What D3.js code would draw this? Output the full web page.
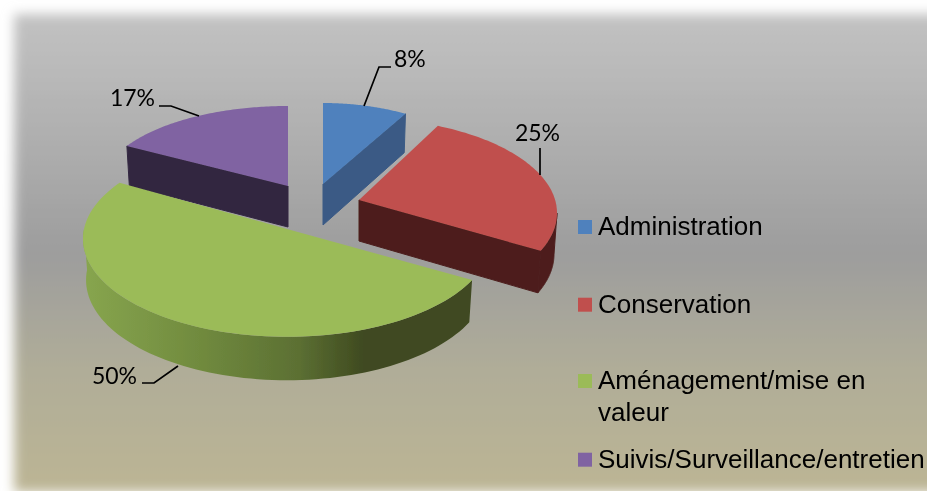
<!DOCTYPE html>
<html><head><meta charset="utf-8">
<script src="https://cdn.jsdelivr.net/npm/d3@7"></script>
<style>html,body{margin:0;padding:0;background:#fff;overflow:hidden}svg{display:block}</style>
</head><body><svg id="c" width="927" height="491"></svg>
<script>
const categories = ["Administration","Conservation","Aménagement/mise en valeur","Suivis/Surveillance/entretien"];
const values = [8.33,25,50,16.67];
const topColors = ["#4f81bd","#c0504d","#9bbb59","#8064a2"];
const sideColors = ["#3a5a85","#4d1f1d","#5a6c32","#332741"];

const W=927,H=491;
const svg=d3.select("#c");
const defs=svg.append("defs");
const bg=defs.append("linearGradient").attr("id","bg").attr("x1",0).attr("y1",0).attr("x2",0).attr("y2",1);
[[0,"#c2c2c2"],[.5,"#9d9d9d"],[.75,"#b0ad98"],[1,"#bcb594"]].forEach(s=>bg.append("stop").attr("offset",s[0]).attr("stop-color",s[1]));
const gs=defs.append("linearGradient").attr("id","gside").attr("gradientUnits","userSpaceOnUse").attr("x1",85).attr("x2",472).attr("y1",0).attr("y2",0);
[[0,"#87a54e"],[.3,"#708a3e"],[.55,"#5c7033"],[.72,"#3f4a20"],[1,"#3f4a20"]].forEach(s=>gs.append("stop").attr("offset",s[0]).attr("stop-color",s[1]));
defs.append("filter").attr("id","soft").attr("filterUnits","userSpaceOnUse").attr("x",-40).attr("y",-40).attr("width",W+120).attr("height",H+80).append("feGaussianBlur").attr("stdDeviation",6);
defs.append("filter").attr("id","aa").attr("filterUnits","userSpaceOnUse").attr("x",0).attr("y",0).attr("width",W).attr("height",H).append("feGaussianBlur").attr("stdDeviation",.5);

svg.append("rect").attr("x",14).attr("y",14).attr("width",W+40).attr("height",H-14+1).attr("fill","url(#bg)").attr("filter","url(#soft)");

// projected shape of each exploded slice (order of categories)
const shapes=[
 {ax:323,ay:184,rx:165,ry:81,p:0,cy:0,rot:0},
 {ax:359,ay:200,rx:198,ry:95,p:0,cy:13,rot:-6.5},
 {ax:287,ay:229,rx:203,ry:97,p:.1,cy:0,rot:0},
 {ax:288,ay:186,rx:186,ry:80,p:0,cy:0,rot:0}
];
const depth=41, depthGrow=.06, wallNarrow=.985;
const pt=(sh,a,z=0)=>{
  const t=a+sh.rot*Math.PI/180, u=Math.sin(t), v=-Math.cos(t), s=1/(1-sh.p*v);
  const x=sh.rx*u*s, y=sh.cy+sh.ry*v*s;
  return [sh.ax+x*(z?wallNarrow:1), sh.ay+y+z*depth*(1+depthGrow*v)];
};
const arcPts=(sh,a0,a1,z)=>d3.range(0,81).map(i=>pt(sh,a0+(a1-a0)*i/80,z));
const line=d3.line();
const arcs=d3.pie().sort(null)(values);
const pct=d3.format(".0%"), total=d3.sum(values);
const g=svg.append("g").attr("filter","url(#aa)");
[0,3,1,2].forEach(i=>{
  const d=arcs[i], sh=shapes[i], a0=d.startAngle,a1=d.endAngle, ap=[sh.ax,sh.ay], apB=[sh.ax,sh.ay+depth];
  const fill=sideColors[i];
  if(i===1){ // outer wall on the right
    const f0=Math.PI/2-sh.rot*Math.PI/180;
    const top=arcPts(sh,f0,a1,0), bot=arcPts(sh,f0,a1,1).reverse();
    g.append("path").attr("d",line(top.concat(bot))+"Z").attr("fill",fill).attr("stroke",fill).attr("stroke-width",1);
  }
  if(i!==2){ // radial face seen from the front
    const a=i===3?a0:a1;
    g.append("path").attr("d",line([ap,pt(sh,a),pt(sh,a,1),apB])+"Z").attr("fill",fill).attr("stroke",fill).attr("stroke-width",1);
  }
  if(i===2){
    const f1=Math.PI*1.5;
    const top=arcPts(sh,a0,f1,0), bot=arcPts(sh,a0,f1,1).reverse();
    g.append("path").attr("d",line(top.concat(bot))+"Z").attr("fill","url(#gside)");
  }
  g.append("path").attr("d",line([ap].concat(arcPts(sh,a0,a1,0)))+"Z").attr("fill",topColors[i]);
});

// leader lines and labels
const leaders=[[[364,106],[379,67],[391,67]],[[540,175],[540,148]],[[178,366],[154,383],[142,383]],[[199,116],[171,106],[159,106]]];
const labelPos=[[394,67,"start"],[537.5,141,"middle"],[137,384,"end"],[155,106,"end"]];
leaders.forEach(l=>g.append("path").attr("d",line(l)).attr("fill","none").attr("stroke","#000").attr("stroke-width",1.7));
values.forEach((v,i)=>g.append("text").attr("x",labelPos[i][0]).attr("y",labelPos[i][1]).attr("text-anchor",labelPos[i][2])
  .attr("font-family","Lato").attr("font-size",23).attr("fill","#000").text(pct(v/total)));

// legend
const legendY=[235,312.7,389,467.7];
const legendLines=[[categories[0]],[categories[1]],["Aménagement/mise en","valeur"],[categories[3]]];
categories.forEach((c,i)=>{
  g.append("rect").attr("x",578).attr("y",legendY[i]-15).attr("width",14).attr("height",14).attr("fill",topColors[i]);
  legendLines[i].forEach((t,j)=>g.append("text").attr("x",598).attr("y",legendY[i]+j*31.5).attr("font-family","Liberation Sans").attr("font-size",26).attr("fill","#000").text(t));
});
</script></body></html>
